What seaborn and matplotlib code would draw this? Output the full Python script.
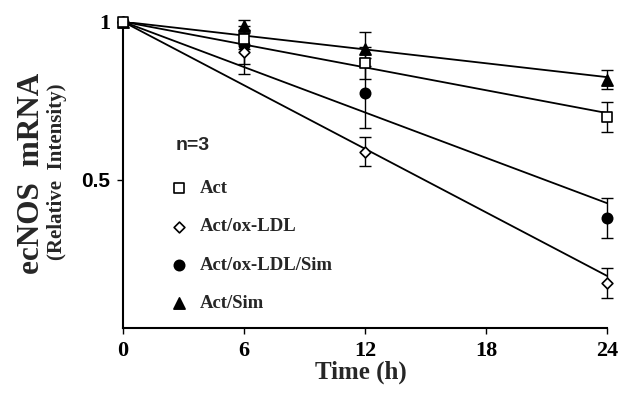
#!/usr/bin/env python3

import numpy as np
import pandas as pd
import matplotlib.pyplot as plt
import seaborn as sns

# ecNOS mRNA decay, relative intensity vs time
times = [0, 6, 12, 24]
groups = ["Act", "Act/ox-LDL", "Act/ox-LDL/Sim", "Act/Sim"]
act = [1.0, 0.945, 0.870, 0.700]
act_oxldl = [1.0, 0.905, 0.590, 0.175]
act_oxldl_sim = [1.0, 0.925, 0.775, 0.379]
act_sim = [1.0, 0.985, 0.914, 0.817]
err_act = [0.0, 0.03, 0.05, 0.047]
err_act_oxldl = [0.0, 0.07, 0.047, 0.048]
err_act_oxldl_sim = [0.0, 0.06, 0.11, 0.063]
err_act_sim = [0.0, 0.02, 0.055, 0.03]

values = [act, act_oxldl, act_oxldl_sim, act_sim]
errors = [err_act, err_act_oxldl, err_act_oxldl_sim, err_act_sim]

df = pd.concat(
    [pd.DataFrame({"time": times, "value": v, "err": e, "group": g})
     for g, v, e in zip(groups, values, errors)],
    ignore_index=True,
)

styles = {
    "Act": dict(marker="s", face="white", size=60, z=6),
    "Act/ox-LDL": dict(marker="D", face="white", size=30, z=5),
    "Act/ox-LDL/Sim": dict(marker="o", face="black", size=55, z=4),
    "Act/Sim": dict(marker="^", face="black", size=65, z=3),
}

sns.set_style("ticks")
serif = ["Liberation Serif", "DejaVu Serif"]
sans = ["Liberation Sans", "DejaVu Sans"]
plt.rcParams["font.family"] = serif
plt.rcParams["font.weight"] = "bold"

fig = plt.figure(figsize=(6.19, 3.93), dpi=100)
ax = fig.add_axes([123 / 619, 1 - 328 / 393, (607 - 123) / 619, (328 - 21.7) / 393])

for g in groups:
    sub = df[df["group"] == g]
    # least-squares line forced through (0, 1)
    t = sub["time"].to_numpy()
    y = sub["value"].to_numpy()
    slope = np.sum(t * (y - 1)) / np.sum(t * t)
    fit = pd.DataFrame({"time": [0, 24]})
    fit["value"] = 1 + slope * fit["time"]
    sns.lineplot(data=fit, x="time", y="value", color="black", lw=1.3,
                 ax=ax, legend=False, label="_nolegend_", zorder=2)
    pts = sub[sub["time"] > 0]
    eb = ax.errorbar(pts["time"], pts["value"], yerr=pts["err"], fmt="none",
                     ecolor="black", elinewidth=1, capsize=4, capthick=1,
                     zorder=1)
    for art in eb.lines[1] + eb.lines[2]:
        art.set_clip_on(False)

for g in groups:
    st = styles[g]
    sub = df[df["group"] == g]
    sns.scatterplot(data=sub, x="time", y="value", marker=st["marker"],
                    s=st["size"], color=st["face"], edgecolor="black",
                    linewidth=1.2, ax=ax, label=g, zorder=st["z"],
                    clip_on=False)

ax.set_xlim(0, 24)
ax.set_ylim(0.0325, 1.0)
ax.set_xticks([0, 6, 12, 18, 24])
ax.set_xticklabels(["0", "6", "12", "18", "24"], fontsize=16, fontweight="bold")
ax.set_yticks([0.5, 1.0])
ax.set_yticklabels(["0.5", "1"], fontsize=16, fontweight="bold")
ax.get_yticklabels()[0].set_family(sans)
ax.get_yticklabels()[0].set_fontsize(15)
ax.tick_params(direction="out", length=4, width=1, colors="black", pad=5)
for side in ["top", "right"]:
    ax.spines[side].set_visible(False)
for side in ["left", "bottom"]:
    ax.spines[side].set_linewidth(1.5)
    ax.spines[side].set_color("black")
ax.set_xlabel("")
ax.set_ylabel("")

leg = ax.legend(loc="upper left", bbox_to_anchor=(0.08, 0.507), frameon=False,
                prop={"family": serif, "weight": "bold", "size": 13.5},
                labelspacing=1.12, handletextpad=0.65, handlelength=1.0,
                borderaxespad=0)
ax.text(176 / 619, 1 - 146 / 393, "n=3", transform=fig.transFigure,
        fontsize=14, fontweight="bold", family=sans, va="center")

fig.text(361 / 619, 1 - 372 / 393, "Time (h)", ha="center", va="center",
         fontsize=18, fontweight="bold")
fig.text(32 / 619, 1 - 173 / 393, "ecNOS  mRNA", rotation=90, ha="center",
         va="center", fontsize=22.5, fontweight="bold")
fig.text(57 / 619, 1 - 172 / 393, "(Relative  Intensity)", rotation=90,
         ha="center", va="center", fontsize=15, fontweight="bold")

fig.savefig("out.png", dpi=100)
